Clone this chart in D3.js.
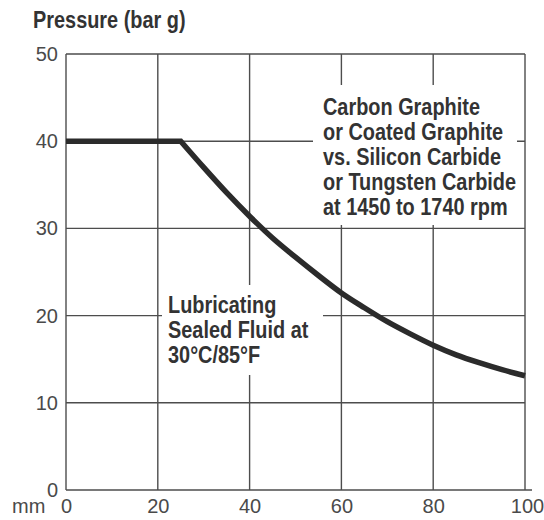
<!DOCTYPE html>
<html><head><meta charset="utf-8">
<script src="https://cdn.jsdelivr.net/npm/d3@7"></script>
<style>
body{margin:0;background:#fff;}
svg{display:block;}
.narrow{font-family:"Liberation Sans",Arial,sans-serif;font-weight:bold;fill:#333;}
.tick text{font-family:"Liberation Sans",Arial,sans-serif;font-size:20px;fill:#4a4a4a;}
</style></head><body>
<script>
const xTicks = [0, 20, 40, 60, 80, 100];
const yTicks = [0, 10, 20, 30, 40, 50];
const plateauX = [0, 25];
const plateauY = [40, 40];
const declineX = [25, 30, 35, 40, 45, 50, 55, 60, 65, 70, 75, 80, 85, 90, 95, 100];
const declineY = [40, 37.0, 34.1, 31.4, 28.9, 26.7, 24.6, 22.6, 20.9, 19.3, 17.9, 16.6, 15.5, 14.6, 13.8, 13.1];
const yTitle = "Pressure (bar g)";
const xUnit = "mm";
const noteTop = ["Carbon Graphite", "or Coated Graphite", "vs. Silicon Carbide", "or Tungsten Carbide", "at 1450 to 1740 rpm"];
const noteBottom = ["Lubricating", "Sealed Fluid at", "30°C/85°F"];

const W = 544, H = 520;
const svg = d3.select("body").append("svg").attr("width", W).attr("height", H);
const x = d3.scaleLinear().domain([0, 100]).range([66, 525]);
const y = d3.scaleLinear().domain([0, 50]).range([490, 54]);
const gridColor = "#4d4d4d";
const squeeze = 0.865;

// gridlines
const g = svg.append("g");
g.selectAll("line.v").data(xTicks).join("line")
  .attr("x1", d => x(d)).attr("x2", d => x(d))
  .attr("y1", y(50)).attr("y2", y(0))
  .attr("stroke", gridColor).attr("stroke-width", 1.4);
g.selectAll("line.h").data(yTicks).join("line")
  .attr("x1", x(0)).attr("x2", d => d === 0 ? x(100) + 7 : x(100))
  .attr("y1", d => y(d)).attr("y2", d => y(d))
  .attr("stroke", gridColor).attr("stroke-width", 1.4);

// white masks behind notes
svg.append("rect").attr("x", 313).attr("y", 85).attr("width", 204).attr("height", 140).attr("fill", "#fff");
svg.append("rect").attr("x", 162).attr("y", 285).attr("width", 161).attr("height", 90).attr("fill", "#fff");

// axes
const xAxis = svg.append("g").attr("transform", `translate(0,${y(0)})`)
  .call(d3.axisBottom(x).tickValues(xTicks).tickSize(0));
xAxis.select(".domain").remove();
xAxis.selectAll("text").attr("y", 23).attr("dy", "0");
xAxis.selectAll(".tick").filter(d => d === 100).select("text").attr("dx", "2");

const yAxis = svg.append("g").attr("transform", `translate(${x(0) - 8},0)`)
  .call(d3.axisLeft(y).tickValues(yTicks).tickSize(0).tickPadding(0));
yAxis.select(".domain").remove();

svg.append("text").attr("x", 12).attr("y", 513)
  .style("font-family", '"Liberation Sans",Arial,sans-serif').style("font-size", "20px").style("fill", "#4a4a4a")
  .text(xUnit);

svg.append("text").attr("class", "narrow")
  .attr("transform", `translate(33,28) scale(${squeeze},1)`)
  .style("font-size", "23px").text(yTitle);

// curve
const linLine = d3.line().x(d => x(d[0])).y(d => y(d[1])).curve(d3.curveLinear);
const monoLine = d3.line().x(d => x(d[0])).y(d => y(d[1])).curve(d3.curveMonotoneX);
const p1 = linLine(d3.zip(plateauX, plateauY));
const p2 = monoLine(d3.zip(declineX, declineY));
const path = p1 + p2.replace(/^M[^LC]*/, "");
svg.append("path").attr("d", path).attr("fill", "none")
  .attr("stroke", "#2b2b2b").attr("stroke-width", 5.5).attr("stroke-linejoin", "miter");

// notes
svg.append("text").attr("class", "narrow").style("font-size", "23px")
  .attr("transform", `translate(323,115) scale(${squeeze},1)`)
  .selectAll("tspan").data(noteTop).join("tspan")
  .attr("x", 0).attr("y", (d, i) => i * 25).text(d => d);
svg.append("text").attr("class", "narrow").style("font-size", "23px")
  .attr("transform", `translate(168,313) scale(${squeeze},1)`)
  .selectAll("tspan").data(noteBottom).join("tspan")
  .attr("x", 0).attr("y", (d, i) => i * 25).text(d => d);
</script>
</body></html>
